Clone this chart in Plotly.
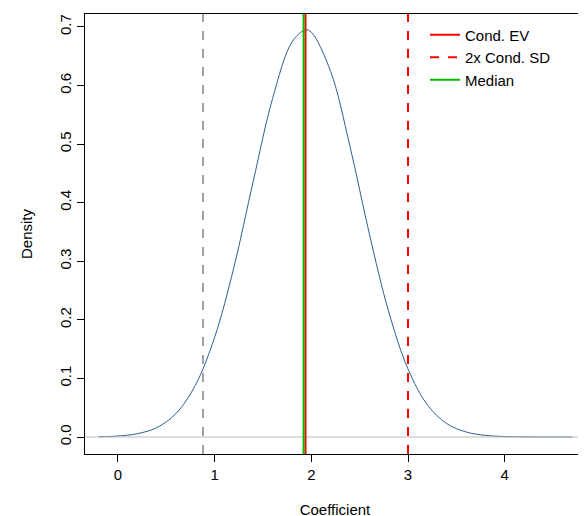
import plotly.graph_objects as go

x_vals = [-0.2, 0.0, 0.2, 0.4, 0.6, 0.8, 1.0, 1.2, 1.4, 1.6, 1.8, 1.94, 2.0, 2.2, 2.4, 2.6, 2.8, 3.0, 3.2, 3.4, 3.6, 3.8, 4.0, 4.2, 4.4, 4.7]
density = [0.0005, 0.0017, 0.0056, 0.0159, 0.040, 0.088, 0.170, 0.290, 0.437, 0.578, 0.674, 0.695, 0.691, 0.624, 0.496, 0.347, 0.214, 0.116, 0.055, 0.023, 0.0086, 0.0028, 0.0008, 0.0002, 0.00005, 0.0]
cond_ev = 1.94
median = 1.92
lower_2sd = 0.88
upper_2sd = 3.0

fig = go.Figure()
fig.add_trace(go.Scatter(x=x_vals, y=density, mode="lines", line=dict(color="#2F5F8F", width=1, shape="spline"), showlegend=False))
fig.add_hline(y=0, line=dict(color="#BBBBBB", width=1))
fig.add_vline(x=lower_2sd, line=dict(color="#444444", width=1, dash="dash"))
fig.add_vline(x=upper_2sd, line=dict(color="red", width=2, dash="dash"))
fig.add_vline(x=cond_ev, line=dict(color="red", width=2))
fig.add_vline(x=median, line=dict(color="#00BB00", width=2))
for name, col, dash in [("Cond. EV", "red", "solid"), ("2x Cond. SD", "red", "dash"), ("Median", "#00BB00", "solid")]:
    fig.add_trace(go.Scatter(x=[None], y=[None], mode="lines", name=name, line=dict(color=col, width=2, dash=dash)))

ax = dict(showline=True, mirror=True, linecolor="black", linewidth=1, ticks="outside", ticklen=7,
          tickcolor="black", showgrid=False, zeroline=False, automargin=False,
          tickfont=dict(size=15, color="black"))
fig.update_layout(
    width=586, height=516, plot_bgcolor="white", paper_bgcolor="white",
    font=dict(family="Liberation Sans, Arial", color="black"),
    margin=dict(l=77, r=9, t=6, b=70),
    xaxis=dict(range=[-0.34, 4.83], tickvals=[0, 1, 2, 3, 4],
               title=dict(text="Coefficient", font=dict(size=15), standoff=22), **ax),
    yaxis=dict(range=[-0.029, 0.722], tickvals=[0, 0.1, 0.2, 0.3, 0.4, 0.5, 0.6, 0.7],
               ticktext=["0.0", "0.1", "0.2", "0.3", "0.4", "0.5", "0.6", "0.7"], tickangle=-90,
               title=dict(text="Density", font=dict(size=15), standoff=20), **ax),
    legend=dict(x=0.68, y=0.99, xanchor="left", yanchor="top", bgcolor="rgba(0,0,0,0)", font=dict(size=15)),
)
fig.write_html("out.html")
